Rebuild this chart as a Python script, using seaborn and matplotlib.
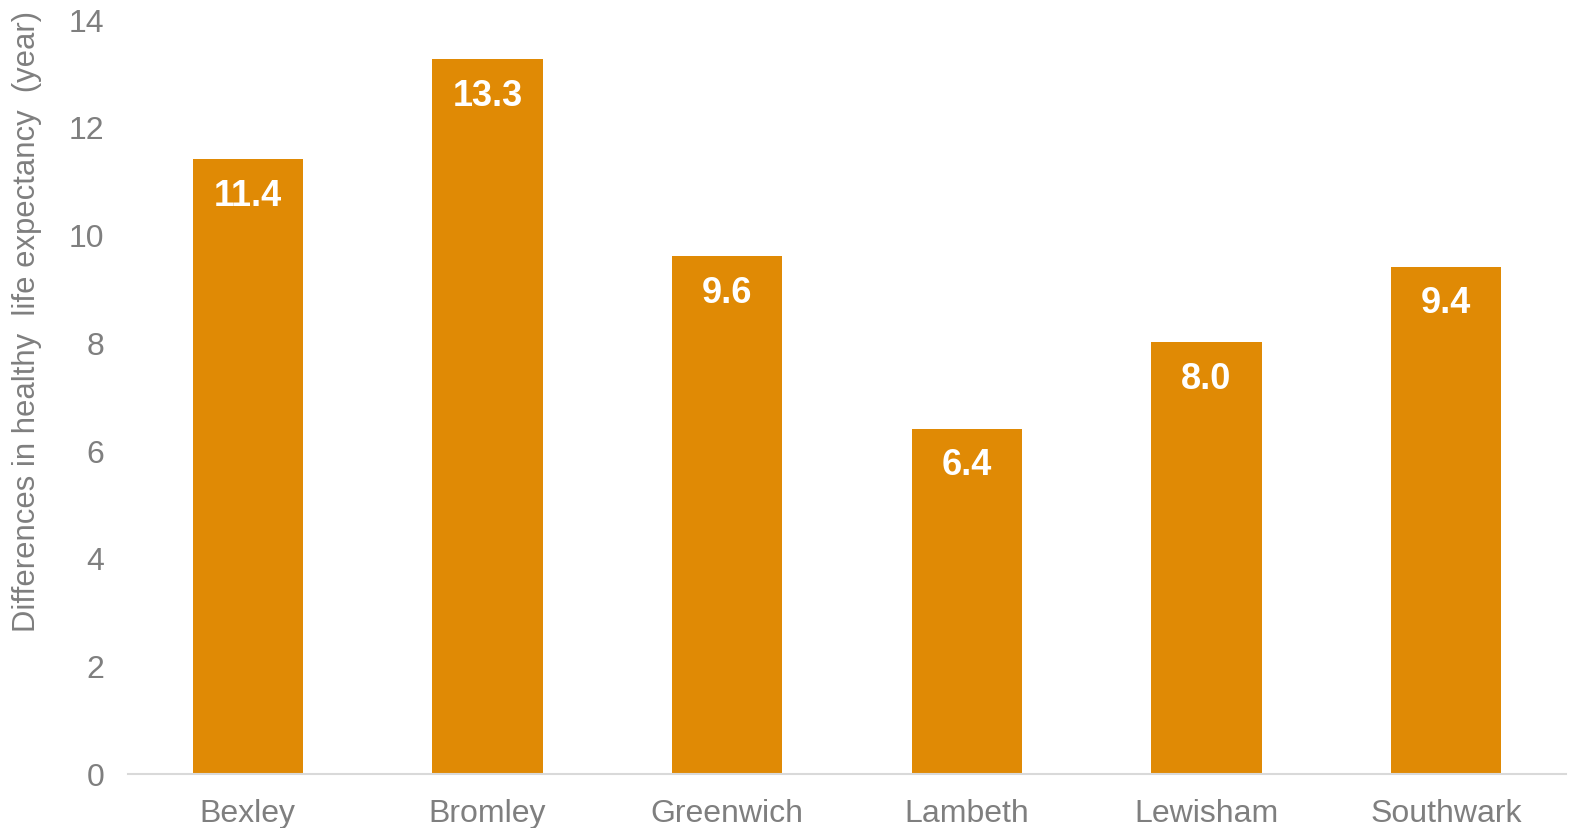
import matplotlib
matplotlib.use("Agg")
import matplotlib.pyplot as plt
import seaborn as sns
import pandas as pd

categories = ["Bexley", "Bromley", "Greenwich", "Lambeth", "Lewisham", "Southwark"]
values = [11.4, 13.25, 9.6, 6.4, 8.0, 9.4]
value_labels = ["11.4", "13.3", "9.6", "6.4", "8.0", "9.4"]
y_ticks = [0, 2, 4, 6, 8, 10, 12, 14]
y_label = "Differences in healthy  life expectancy  (year)"

sns.set_style("white")
plt.rcParams['font.family'] = ['Liberation Sans', 'DejaVu Sans']

df = pd.DataFrame({"cat": categories, "val": values})

fig = plt.figure(figsize=(15.7, 8.29), dpi=100)
ax = fig.add_axes([128/1570, 1-774.5/829, (1566-128)/1570, (774.5-20)/829])
sns.barplot(data=df, x="cat", y="val", color="#E08A05", saturation=1, width=0.46, ax=ax)
for p in ax.patches:
    p.set_edgecolor("none")

ax.set_ylim(0, 14)
ax.set_xlim(-0.5, 5.5)
ax.set_yticks(y_ticks)
ax.set_yticklabels([str(t) for t in y_ticks])
grey = "#7F7F7F"
ax.tick_params(axis="y", labelsize=23, colors=grey, length=0, pad=17)
ax.tick_params(axis="x", labelsize=23, colors=grey, length=0, pad=18)
ax.set_xlabel("")
ax.set_ylabel(y_label, fontsize=22.3, color=grey)
ax.yaxis.set_label_coords(-86/1438, 0.6)
for s in ["top", "right", "left"]:
    ax.spines[s].set_visible(False)
ax.spines["bottom"].set_color("#D9D9D9")
ax.spines["bottom"].set_linewidth(1.5)

for i, (v, lab) in enumerate(zip(values, value_labels)):
    ax.annotate(lab, xy=(i, v), xytext=(0, -36), textcoords="offset pixels",
                ha="center", va="center", color="white", fontsize=26, fontweight="bold")

fig.savefig("out.png", dpi=100)
